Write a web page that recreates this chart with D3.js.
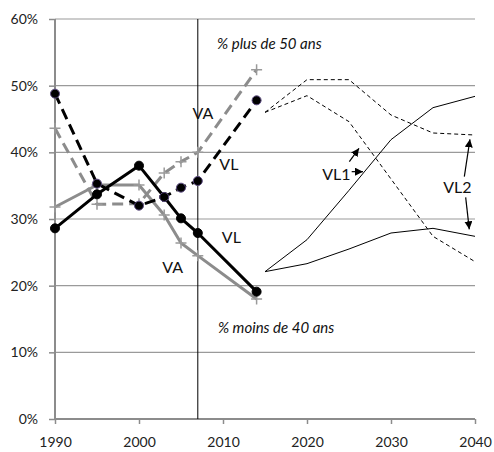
<!DOCTYPE html>
<html><head><meta charset="utf-8">
<script src="https://cdn.jsdelivr.net/npm/d3@7"></script>
<style>
html,body{margin:0;padding:0;background:#fff;}
svg{display:block;font-family:Lato,"Open Sans",sans-serif;}
</style></head>
<body>
<svg id="chart" width="494" height="452"></svg>
<script>
// ---- data ----
const years = [1990, 1995, 2000, 2003, 2005, 2007, 2014];
const vlPlus50  = [48.8, 35.3, 32.0, 33.3, 34.7, 35.7, 47.8];
const vaPlus50  = [43.6, 32.2, 32.3, 36.9, 38.6, 40.0, 52.4];
const vlMoins40 = [28.6, 33.7, 38.0, 33.3, 30.1, 27.9, 19.1];
const vaMoins40 = [31.8, 35.1, 35.1, 30.6, 26.4, 24.5, 18.0];

const projYears  = [2015, 2020, 2025, 2030, 2035, 2040];
const vl1Plus50  = [46.0, 48.5, 44.6, 36.0, 27.4, 23.6];
const vl2Plus50  = [46.0, 50.9, 50.9, 45.6, 42.9, 42.6];
const vl1Moins40 = [22.1, 26.9, 34.3, 41.9, 46.7, 48.4];
const vl2Moins40 = [22.1, 23.3, 25.5, 27.9, 28.6, 27.4];

const xTicks = [1990, 2000, 2010, 2020, 2030, 2040];
const yTicks = [0, 10, 20, 30, 40, 50, 60];
const markerYear = 2007;

const labels = [
  {text: "VA", x: 2007.6, y: 45.0},
  {text: "VL", x: 2010.7, y: 37.35},
  {text: "VL", x: 2011.0, y: 26.4},
  {text: "VA", x: 2004.0, y: 21.9},
  {text: "VL1", x: 2023.5, y: 35.85},
  {text: "VL2", x: 2037.9, y: 33.9}
];
const notes = [
  {text: "% plus de 50 ans", x: 2009.3, y: 55.5},
  {text: "% moins de 40 ans", x: 2009.4, y: 12.9}
];
const arrows = [
  {x1: 2025.04, y1: 38.6, x2: 2026.19, y2: 40.6},
  {x1: 2025.32, y1: 37.1, x2: 2026.67, y2: 37.1},
  {x1: 2038.73, y1: 36.35, x2: 2039.4, y2: 41.95},
  {x1: 2038.89, y1: 33.25, x2: 2039.32, y2: 28.45}
];

// ---- chart ----
const svg = d3.select("#chart");
const x = d3.scaleLinear().domain([1990, 2040]).range([55, 475]);
const y = d3.scaleLinear().domain([0, 60]).range([419, 19]);

const gridColor = "#9a9a9a";
const axisColor = "#8c8c8c";
const grayLine = "#8c8c8c";

// gridlines
svg.append("g").selectAll("line").data(yTicks.filter(d => d > 0)).join("line")
  .attr("x1", x(1990)).attr("x2", x(2040))
  .attr("y1", d => y(d)).attr("y2", d => y(d))
  .attr("stroke", gridColor).attr("stroke-width", 1.2);

// axes
const yAxis = svg.append("g").attr("transform", `translate(${x(1990)},0)`)
  .call(d3.axisLeft(y).tickValues(yTicks).tickFormat(d => d + "%").tickSize(6).tickPadding(11));
const xAxis = svg.append("g").attr("transform", `translate(0,${y(0)})`)
  .call(d3.axisBottom(x).tickValues(xTicks).tickFormat(d => d).tickSize(5).tickPadding(13));
[yAxis, xAxis].forEach(g => {
  g.select(".domain").attr("stroke", axisColor).attr("stroke-width", 2);
  g.selectAll(".tick line").attr("stroke", axisColor).attr("stroke-width", 1.5);
  g.selectAll("text").attr("fill", "#222").style("font-size", "14px").style("font-family", "Lato, 'Open Sans', sans-serif");
});
yAxis.select(".domain").attr("d", `M0,${y(0)}V${y(60)}`);
xAxis.select(".domain").attr("d", `M${x(1990)},0H${x(2040)}`);

// vertical 2007 line
svg.append("line").attr("x1", x(markerYear)).attr("x2", x(markerYear))
  .attr("y1", y(60)).attr("y2", y(0)).attr("stroke", "#000").attr("stroke-width", 1);

const line = (xs, ys) => d3.line().x((d, i) => x(xs[i])).y(d => y(d))(ys);

// projections (thin)
[[vl1Plus50, "4,3"], [vl2Plus50, "4,3"], [vl1Moins40, null], [vl2Moins40, null]].forEach(([vals, dash]) => {
  svg.append("path").attr("d", line(projYears, vals)).attr("fill", "none")
    .attr("stroke", "#000").attr("stroke-width", 1)
    .attr("stroke-dasharray", dash);
});

// historical lines
function series(vals, color, dash, marker) {
  svg.append("path").attr("d", line(years, vals)).attr("fill", "none")
    .attr("stroke", color).attr("stroke-width", 3).attr("stroke-dasharray", dash)
    .attr("stroke-linejoin", "round");
  const g = svg.append("g");
  if (marker === "plus") {
    g.selectAll("path").data(vals).join("path")
      .attr("d", (d, i) => { const cx = x(years[i]), cy = y(d), s = 5.5;
        return `M${cx - s},${cy}H${cx + s}M${cx},${cy - s}V${cy + s}`; })
      .attr("stroke", "#9a9a9a").attr("stroke-width", 1.5).attr("fill", "none");
  } else {
    g.selectAll("circle").data(vals).join("circle")
      .attr("cx", (d, i) => x(years[i])).attr("cy", d => y(d)).attr("r", 4.5)
      .attr("fill", "#000")
      .attr("stroke", marker === "circleP" ? "#5b4a80" : "#000").attr("stroke-width", 1);
  }
}
series(vaMoins40, grayLine, null, "plus");
series(vaPlus50, grayLine, "11,6", "plus");
series(vlMoins40, "#000", null, "circle");
series(vlPlus50, "#000", "11,6", "circleP");

// labels
svg.append("g").selectAll("text").data(labels).join("text")
  .attr("x", d => x(d.x)).attr("y", d => y(d.y)).attr("text-anchor", "middle")
  .style("font-size", "16px").attr("fill", "#111").text(d => d.text);
svg.append("g").selectAll("text").data(notes).join("text")
  .attr("x", d => x(d.x)).attr("y", d => y(d.y))
  .style("font-size", "15px").style("font-style", "italic").attr("fill", "#111").text(d => d.text);

// arrows
svg.append("defs").append("marker").attr("id", "ah").attr("viewBox", "0 0 10 10")
  .attr("refX", 10).attr("refY", 5).attr("markerWidth", 8).attr("markerHeight", 8)
  .attr("markerUnits", "userSpaceOnUse").attr("orient", "auto")
  .append("path").attr("d", "M0,0L10,5L0,10Z").attr("fill", "#000");
svg.append("g").selectAll("line").data(arrows).join("line")
  .attr("x1", d => x(d.x1)).attr("y1", d => y(d.y1))
  .attr("x2", d => x(d.x2)).attr("y2", d => y(d.y2))
  .attr("stroke", "#000").attr("stroke-width", 1.2).attr("marker-end", "url(#ah)");
</script>
</body></html>
